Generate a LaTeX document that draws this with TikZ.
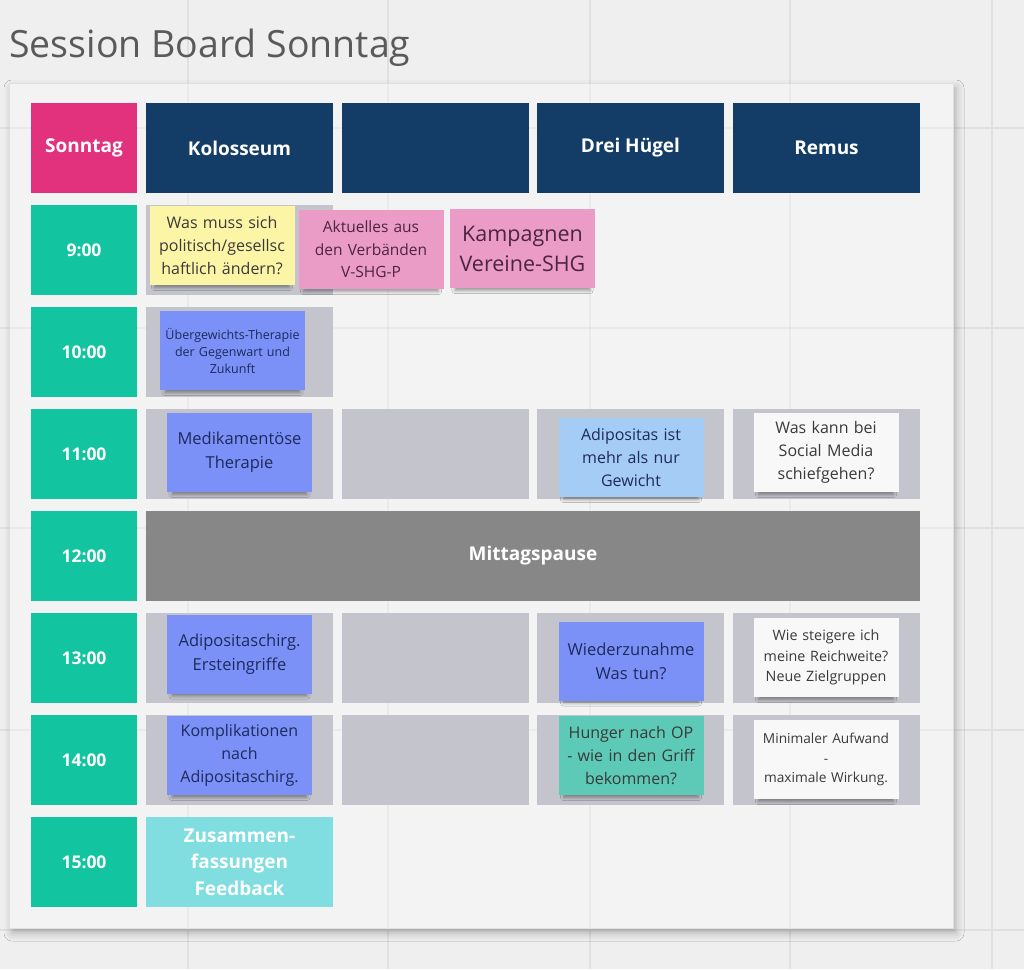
\documentclass[tikz,border=0pt]{standalone}
\usepackage{fontspec}
\setmainfont{Open Sans}
\usetikzlibrary{shadows.blur}
\definecolor{bgc}{HTML}{EFEFEF}
\definecolor{gridc}{HTML}{E0E0E0}
\definecolor{boardc}{HTML}{F3F3F3}
\definecolor{pinkc}{HTML}{E2317D}
\definecolor{navyc}{HTML}{133D66}
\definecolor{tealc}{HTML}{12C5A0}
\definecolor{slotc}{HTML}{C4C4CC}
\definecolor{pausec}{HTML}{878787}
\definecolor{cyanc}{HTML}{80DEE0}
\definecolor{yellowc}{HTML}{FDF5A6}
\definecolor{rosec}{HTML}{EB9CC6}
\definecolor{bluec}{HTML}{7B91F7}
\definecolor{lightbluec}{HTML}{A4CCF4}
\definecolor{greenc}{HTML}{5CCAB6}
\definecolor{whitec}{HTML}{F8F8F8}
\definecolor{titlec}{HTML}{5A5A5A}
\definecolor{darktext}{HTML}{3A3A3A}
\definecolor{rosetext}{HTML}{4E2443}
\definecolor{bluetext}{HTML}{1E2A5C}
\tikzset{
  cell/.style={minimum width=187pt,minimum height=90pt,inner sep=0pt,outer sep=0pt},
  timebox/.style={cell,minimum width=106pt,fill=tealc,text=white,font=\bfseries\fontsize{17.5}{20}\selectfont},
  headbox/.style={cell,fill=navyc,text=white,font=\bfseries\fontsize{19}{22}\selectfont},
  slot/.style={cell,fill=slotc},
  note/.style={minimum width=145pt,minimum height=79pt,inner sep=0pt,text width=143pt,align=center,
    font=\fontsize{16}{23}\selectfont,text=darktext,
    blur shadow={shadow xshift=0pt,shadow yshift=-5.5pt,shadow blur radius=3.5pt,shadow opacity=40,shadow scale=0.93}},
}
\begin{document}
\begin{tikzpicture}[x=1pt,y=-1pt]
\fill[bgc] (0,0) rectangle (1024,969);
\useasboundingbox (0,0) rectangle (1024,969);
% background grid
\foreach \gx in {188,388,590,790,992} \draw[gridc,line width=1.2pt] (\gx,0) -- (\gx,969);
\foreach \gy in {128,328,528,730,930} \draw[gridc,line width=1.2pt] (0,\gy) -- (1024,\gy);
% title
\node[anchor=base west,inner sep=0pt,text=titlec,font=\fontsize{37.5}{44}\selectfont] (title) at (9,57) {Session Board Sonntag};
% board
\path[fill=boardc,draw=gridc,line width=0.8pt,
  blur shadow={shadow xshift=3pt,shadow yshift=-5pt,shadow blur radius=8pt,shadow opacity=28}]
  (9,83) rectangle (953,928);
\foreach \gx in {188,388,590,790} \draw[black,opacity=0.035,line width=1.2pt] (\gx,83) -- (\gx,928);
\foreach \gy in {128,328,528,730} \draw[black,opacity=0.035,line width=1.2pt] (9,\gy) -- (953,\gy);
% header
\node[headbox,minimum width=106pt,fill=pinkc] (hsun) at (84,148) {Sonntag};
\node[headbox] (hkol) at (239.5,148) {Kolosseum};
\node[headbox] (hblank) at (435.5,148) {};
\node[headbox] (hdrei) at (630.5,148) {Drei Hügel};
\node[headbox] (hrem) at (826.5,148) {Remus};
% times
\node[timebox] (t9) at (84,250) {9:00};
\node[timebox] (t10) at (84,352) {10:00};
\node[timebox] (t11) at (84,454) {11:00};
\node[timebox] (t12) at (84,556) {12:00};
\node[timebox] (t13) at (84,658) {13:00};
\node[timebox] (t14) at (84,760) {14:00};
\node[timebox] (t15) at (84,862) {15:00};
% slots
\node[slot] (s9k) at (239.5,250) {};
\node[slot] (s10k) at (239.5,352) {};
\node[slot] (s11k) at (239.5,454) {};
\node[slot] (s11b) at (435.5,454) {};
\node[slot] (s11d) at (630.5,454) {};
\node[slot] (s11r) at (826.5,454) {};
\node[slot] (s13k) at (239.5,658) {};
\node[slot] (s13b) at (435.5,658) {};
\node[slot] (s13d) at (630.5,658) {};
\node[slot] (s13r) at (826.5,658) {};
\node[slot] (s14k) at (239.5,760) {};
\node[slot] (s14b) at (435.5,760) {};
\node[slot] (s14d) at (630.5,760) {};
\node[slot] (s14r) at (826.5,760) {};
\node[cell,minimum width=774pt,fill=pausec,text=white,font=\bfseries\fontsize{19}{22}\selectfont] (pause) at (533,556) {Mittagspause};
\node[cell,fill=cyanc,text=white,align=center,font=\bfseries\fontsize{19}{26.5}\selectfont] (s15k) at (239.5,862) {Zusammen-\\fassungen\\Feedback};
% notes
\node[note,fill=yellowc] (n1) at (222,245.5) {Was muss sich\\politisch/gesellsc\\haftlich ändern?};
\node[note,fill=rosec,text=rosetext,font=\fontsize{15.5}{22.5}\selectfont] (n2) at (371,249.5) {Aktuelles aus\\den Verbänden\\V-SHG-P};
\node[note,fill=rosec,text=rosetext,font=\fontsize{21.5}{30}\selectfont] (n3) at (522.5,248.5) {Kampagnen\\Vereine-SHG};
\node[note,fill=bluec,text=bluetext,font=\fontsize{12.5}{17}\selectfont] (n4) at (232.5,350.5) {Übergewichts-Therapie\\der Gegenwart und\\Zukunft};
\node[note,fill=bluec,text=bluetext,font=\fontsize{16.5}{24}\selectfont] (n5) at (239.5,452.5) {Medikamentöse\\Therapie};
\node[note,fill=lightbluec,text=bluetext] (n6) at (631,457.5) {Adipositas ist\\mehr als nur\\Gewicht};
\node[note,fill=whitec,text=darktext] (n7) at (826,452.5) {Was kann bei\\Social Media\\schiefgehen?};
\node[note,fill=bluec,text=bluetext,font=\fontsize{16.5}{24}\selectfont] (n8) at (239.5,654) {Adipositaschirg.\\Ersteingriffe};
\node[note,fill=bluec,text=bluetext,font=\fontsize{16.5}{24}\selectfont] (n9) at (631,661) {Wiederzunahme\\Was tun?};
\node[note,fill=whitec,text=darktext,font=\fontsize{14.3}{20.5}\selectfont] (n10) at (826,657.5) {Wie steigere ich\\meine Reichweite?\\Neue Zielgruppen};
\node[note,fill=bluec,text=bluetext] (n11) at (239.5,755.5) {Komplikationen\\nach\\Adipositaschirg.};
\node[note,fill=greenc,text=darktext] (n12) at (631,755.5) {Hunger nach OP\\- wie in den Griff\\bekommen?};
\node[note,fill=whitec,text=darktext,font=\fontsize{13.7}{19.5}\selectfont] (n13) at (826,759.5) {Minimaler Aufwand\\-\\maximale Wirkung.};
\end{tikzpicture}
\end{document}
